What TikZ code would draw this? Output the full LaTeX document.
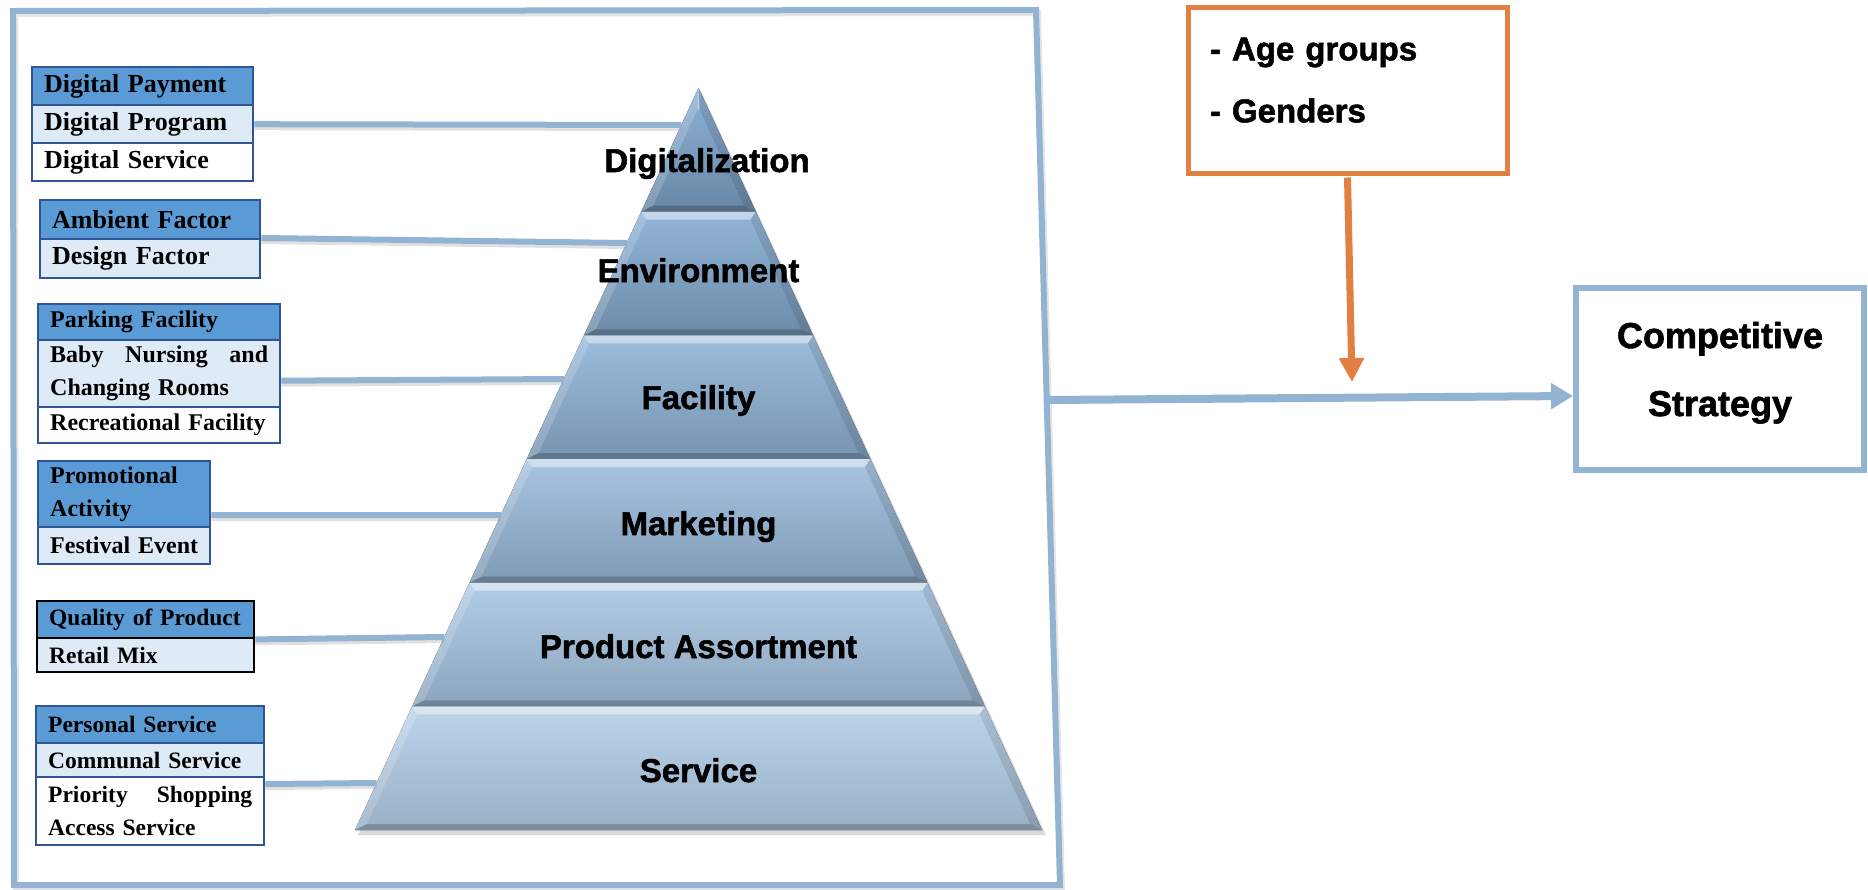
\documentclass[tikz,border=0pt]{standalone}
\usepackage{fontspec}
\setmainfont{Liberation Serif}
\newfontfamily\headsans[FakeBold=1.6]{Liberation Sans}
\usetikzlibrary{arrows.meta}

\definecolor{frameblue}{HTML}{93B3D3}
\definecolor{hdrblue}{HTML}{5B9BD5}
\definecolor{rowlight}{HTML}{DEEAF6}
\definecolor{rowline}{HTML}{2E5597}
\definecolor{accent}{HTML}{E27F43}
\definecolor{bandAt}{HTML}{8DB2D7}\definecolor{bandAb}{HTML}{6787A5}
\definecolor{bandBt}{HTML}{92B5D8}\definecolor{bandBb}{HTML}{6C8BA8}
\definecolor{bandCt}{HTML}{9CBDDD}\definecolor{bandCb}{HTML}{7794AF}
\definecolor{bandDt}{HTML}{A7C5E2}\definecolor{bandDb}{HTML}{7F9AB4}
\definecolor{bandEt}{HTML}{B2CDE7}\definecolor{bandEb}{HTML}{8CA5BE}
\definecolor{bandFt}{HTML}{BDD5EB}\definecolor{bandFb}{HTML}{98AFC6}

% One bevelled layer of the pyramid: #1 top y, #2 bottom y, #3/#4 shading colours
\newcommand{\pyrlayer}[4]{%
  \fill[top color=#3, bottom color=#4]
    ({698.5-0.463*(#1-88)},#1) -- ({698.5+0.463*(#1-88)},#1) --
    ({698.5+0.463*(#2-88)},#2) -- ({698.5-0.463*(#2-88)},#2) -- cycle;
  \pgfmathsetmacro{\yti}{max(#1+8,109.6)}%
  \pgfmathsetmacro{\ybi}{#2-6}%
  \fill[white, opacity=.45]
    ({698.5-0.463*(#1-88)},#1) -- ({698.5+0.463*(#1-88)},#1) --
    ({698.5+0.463*(\yti-88)-9},\yti) -- ({698.5-0.463*(\yti-88)+9},\yti) -- cycle;
  \fill[white, opacity=.18]
    ({698.5-0.463*(#1-88)},#1) -- ({698.5-0.463*(\yti-88)+9},\yti) --
    ({698.5-0.463*(\ybi-88)+9},\ybi) -- ({698.5-0.463*(#2-88)},#2) -- cycle;
  \fill[black, opacity=.10]
    ({698.5+0.463*(#1-88)},#1) -- ({698.5+0.463*(\yti-88)-9},\yti) --
    ({698.5+0.463*(\ybi-88)-9},\ybi) -- ({698.5+0.463*(#2-88)},#2) -- cycle;
  \fill[black, opacity=.20]
    ({698.5-0.463*(#2-88)},#2) -- ({698.5+0.463*(#2-88)},#2) --
    ({698.5+0.463*(\ybi-88)-9},\ybi) -- ({698.5-0.463*(\ybi-88)+9},\ybi) -- cycle;
}

\begin{document}
\begin{tikzpicture}[x=1pt, y=-1pt,
  rowbase/.style={draw=rowline, line width=2.4pt, anchor=north west,
    inner xsep=12pt, inner ysep=0pt, align=left,
    font=\bfseries\fontsize{24}{33}\selectfont},
  hdr/.style={rowbase, fill=hdrblue},
  lt/.style={rowbase, fill=rowlight},
  wt/.style={rowbase, fill=white},
  big/.style={font=\bfseries\fontsize{26}{33}\selectfont},
  small/.style={font=\bfseries\fontsize{23.5}{33}\selectfont},
  link/.style={draw=frameblue, line width=6pt,
    preaction={draw=black!40, opacity=.3, line width=6pt, transform canvas={yshift=-3pt}}},
  pyrtext/.style={anchor=base, inner sep=0pt, text=black,
    font=\headsans\bfseries\fontsize{33}{40}\selectfont},
  flow/.style={draw=frameblue, line width=8pt,
    -{Triangle[length=22pt, width=25pt]}},
  agearrow/.style={draw=accent, line width=7pt,
    -{Triangle[length=24pt, width=24pt]}}
]
\useasboundingbox (0,0) rectangle (1868,889);
\fill[white] (0,0) rectangle (1868,889);

% outer frame around the pyramid model
\draw[black!40, opacity=.25, line width=6pt, transform canvas={shift={(2pt,-3pt)}}]
  (13,11) -- (1036,10) -- (1060,885) -- (14,885) -- cycle;
\draw[frameblue, line width=6pt, line join=miter]
  (13,11) -- (1036,10) -- (1060,885) -- (14,885) -- cycle;
\coordinate (fr) at (1047,400);

% pyramid
\fill[black, opacity=.15] (701.5,92) -- (1046,835) -- (358,835) -- cycle;
\pyrlayer{88}{211.67}{bandAt}{bandAb}
\pyrlayer{211.67}{335.33}{bandBt}{bandBb}
\pyrlayer{335.33}{459}{bandCt}{bandCb}
\pyrlayer{459}{582.67}{bandDt}{bandDb}
\pyrlayer{582.67}{706.33}{bandEt}{bandEb}
\pyrlayer{706.33}{830}{bandFt}{bandFb}

\node[pyrtext] (lvl1) at (707,172) {Digitalization};
\node[pyrtext] (lvl2) at (698.5,282) {Environment};
\node[pyrtext] (lvl3) at (698.5,409) {Facility};
\node[pyrtext] (lvl4) at (698.5,535) {Marketing};
\node[pyrtext] (lvl5) at (698.5,658) {Product Assortment};
\node[pyrtext] (lvl6) at (698.5,782) {Service};

% points on the left side of the pyramid
\coordinate (p1) at ({698.5-0.463*(125-88)},125);
\coordinate (p2) at ({698.5-0.463*(243-88)},243);
\coordinate (p3) at ({698.5-0.463*(379-88)},379);
\coordinate (p4) at ({698.5-0.463*(515-88)},515);
\coordinate (p5) at ({698.5-0.463*(637-88)},637);
\coordinate (p6) at ({698.5-0.463*(783-88)},783);

% dimension boxes
\node[hdr, big, text width=197pt, minimum height=38pt] (dpay) at (31,66) {\mbox{Digital Payment}};
\node[lt,  big, text width=197pt, minimum height=38pt] (dprog) at (31,104) {\mbox{Digital Program}};
\node[wt,  big, text width=197pt, minimum height=38pt] (dserv) at (31,142) {\mbox{Digital Service}};

\node[hdr, big, text width=196pt, minimum height=39pt] (amb) at (39,199) {\mbox{Ambient Factor}};
\node[lt,  big, text width=196pt, minimum height=39pt] (des) at (39,238) {\mbox{Design Factor}};

\node[hdr, text width=218pt, minimum height=36pt] (park) at (37,303) {\mbox{Parking Facility}};
\node[lt,  text width=218pt, minimum height=67pt] (baby) at (37,339) {Baby\hfill Nursing\hfill and\\Changing Rooms};
\node[wt,  text width=218pt, minimum height=36pt] (recr) at (37,406) {\mbox{Recreational Facility}};

\node[hdr, text width=148pt, minimum height=66pt] (promo) at (37,460) {Promotional\\Activity};
\node[lt,  text width=148pt, minimum height=37pt] (fest) at (37,526) {\mbox{Festival Event}};

\node[hdr, small, draw=black, text width=193pt, minimum height=37pt] (qual) at (36,600) {\mbox{Quality of Product}};
\node[lt,  small, draw=black, text width=193pt, minimum height=34pt] (rmix) at (36,637) {\mbox{Retail Mix}};

\node[hdr, small, text width=204pt, minimum height=37pt] (pers) at (35,705) {\mbox{Personal Service}};
\node[lt,  small, text width=204pt, minimum height=34pt] (comm) at (35,742) {\mbox{Communal Service}};
\node[wt,  small, text width=204pt, minimum height=68pt] (prio) at (35,776) {Priority\hfill Shopping\\Access Service};

% links from the boxes to the pyramid levels
\draw[link] (dprog.east) -- (p1);
\draw[link] (des.north east) -- (p2);
\draw[link] ([yshift=-7pt]baby.east) -- (p3);
\draw[link] ([yshift=-21pt]promo.east) -- (p4);
\draw[link] (qual.south east) -- (p5);
\draw[link] ([yshift=-8pt]prio.north east) -- (p6);

% moderator box
\node[draw=accent, line width=5pt, minimum width=319pt, minimum height=166pt,
  text width=275pt, inner xsep=22pt, align=left,
  font=\headsans\bfseries\fontsize{33}{62}\selectfont] (demo) at (1347.5,90)
  {- Age groups\\- Genders\rule[-20pt]{0pt}{0pt}};

% outcome box
\node[draw=frameblue, line width=6pt, minimum width=288pt, minimum height=182pt,
  align=center, font=\headsans\bfseries\fontsize{36}{68}\selectfont] (strat) at (1720,379)
  {Competitive\\Strategy\rule[-20pt]{0pt}{0pt}};

\coordinate (mod) at (1352,382);
\draw[flow] (fr) -- ([yshift=-17pt]strat.west);
\draw[agearrow] ([yshift=-2pt]demo.south) -- (mod);
\end{tikzpicture}
\end{document}
